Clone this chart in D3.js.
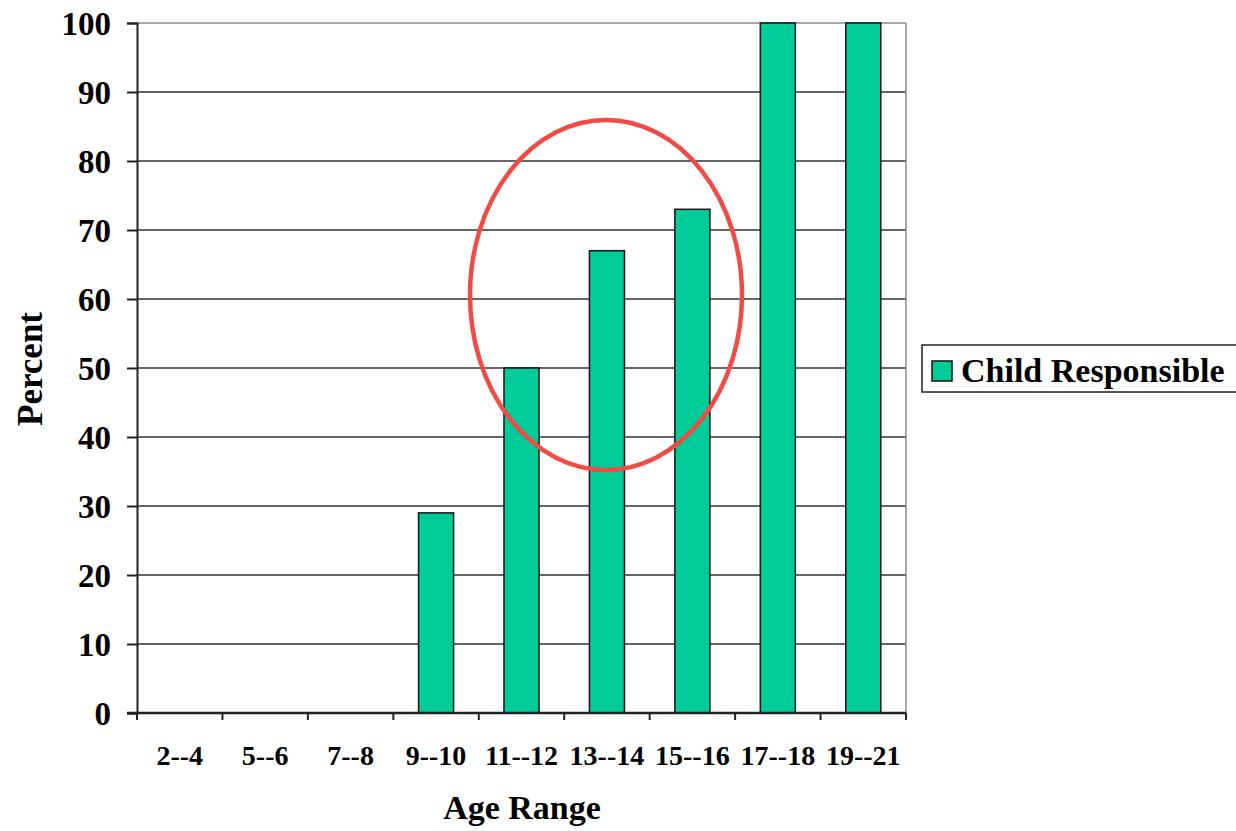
<!DOCTYPE html>
<html>
<head>
<meta charset="utf-8">
<script src="https://cdn.jsdelivr.net/npm/d3@7"></script>
<style>
  html, body { margin: 0; padding: 0; background: #fff; }
  svg { display: block; font-family: "Liberation Serif", "Times New Roman", serif; font-weight: bold; }
</style>
</head>
<body>
<svg id="chart" width="1236" height="831"></svg>
<script>
// Share of children responsible, by age range
const categories = ["2--4", "5--6", "7--8", "9--10", "11--12", "13--14", "15--16", "17--18", "19--21"];
const values = [0, 0, 0, 29, 50, 67, 73, 100, 100];
const yTicks = [0, 10, 20, 30, 40, 50, 60, 70, 80, 90, 100];
const seriesName = "Child Responsible";
const xTitle = "Age Range";
const yTitle = "Percent";

const svg = d3.select("#chart");
const plot = { left: 137, right: 906, top: 23, bottom: 713 };

const x = d3.scaleBand().domain(categories).range([plot.left, plot.right]).paddingInner(0.59).paddingOuter(0.295);
const xCat = d3.scaleBand().domain(categories).range([plot.left, plot.right]);
const y = d3.scaleLinear().domain([0, 100]).range([plot.bottom, plot.top]);

// gridlines
svg.append("g").selectAll("line").data(yTicks.filter(d => d > 0)).join("line")
  .attr("x1", plot.left).attr("x2", plot.right)
  .attr("y1", d => y(d)).attr("y2", d => y(d))
  .attr("stroke", d => d === 100 ? "#8c8c8c" : "#333").attr("stroke-width", 1.5);

// right border of plot area
svg.append("line").attr("x1", plot.right).attr("x2", plot.right)
  .attr("y1", plot.top).attr("y2", plot.bottom)
  .attr("stroke", "#8c8c8c").attr("stroke-width", 1.5);

// bars
svg.append("g").selectAll("rect").data(categories.map((c, i) => ({ c, v: values[i] })).filter(d => d.v > 0)).join("rect")
  .attr("x", d => x(d.c)).attr("width", x.bandwidth())
  .attr("y", d => y(d.v)).attr("height", d => y(0) - y(d.v))
  .attr("fill", "#00cc99").attr("stroke", "#111").attr("stroke-width", 1.5);

// y axis
const yAxis = svg.append("g").attr("transform", `translate(${plot.left},0)`)
  .call(d3.axisLeft(y).tickValues(yTicks).tickSize(10).tickPadding(16).tickFormat(d3.format("d")));
yAxis.attr("font-family", null).attr("font-size", null);
yAxis.select(".domain").attr("stroke", "#222").attr("stroke-width", 2);
yAxis.selectAll(".tick line").attr("stroke", "#222").attr("stroke-width", 2);
yAxis.selectAll(".tick text").attr("font-size", 33).attr("fill", "#000").attr("dy", "0.34em");

// x axis: ticks at category boundaries, labels centered
const xAxisG = svg.append("g").attr("transform", `translate(0,${plot.bottom})`);
xAxisG.append("line").attr("x1", plot.left - 10).attr("x2", plot.right)
  .attr("stroke", "#222").attr("stroke-width", 2.5);
const bounds = categories.map(c => xCat(c)).concat([plot.right]);
xAxisG.selectAll("line.tk").data(bounds).join("line").attr("class", "tk")
  .attr("x1", d => d).attr("x2", d => d).attr("y1", 0).attr("y2", 7)
  .attr("stroke", "#222").attr("stroke-width", 2);
xAxisG.selectAll("text").data(categories).join("text")
  .attr("x", d => xCat(d) + xCat.bandwidth() / 2).attr("y", 52)
  .attr("text-anchor", "middle").attr("font-size", 28).attr("fill", "#000")
  .text(d => d);

// axis titles
svg.append("text").attr("x", 522).attr("y", 819).attr("text-anchor", "middle")
  .attr("font-size", 34).text(xTitle);
svg.append("text").attr("transform", "translate(42,369) rotate(-90)").attr("text-anchor", "middle")
  .attr("font-size", 35).text(yTitle);

// highlight ellipse
svg.append("ellipse").attr("cx", 606).attr("cy", 295).attr("rx", 136).attr("ry", 175)
  .attr("fill", "none").attr("stroke", "#f24a45").attr("stroke-width", 4.5);

// legend
const lg = svg.append("g");
lg.append("rect").attr("x", 922).attr("y", 345).attr("width", 330).attr("height", 47)
  .attr("fill", "#fff").attr("stroke", "#222").attr("stroke-width", 1.5);
lg.append("rect").attr("x", 932).attr("y", 361).attr("width", 20).attr("height", 20)
  .attr("fill", "#00cc99").attr("stroke", "#111").attr("stroke-width", 1.5);
lg.append("text").attr("x", 961).attr("y", 382).attr("font-size", 34).text(seriesName);
</script>
</body>
</html>
